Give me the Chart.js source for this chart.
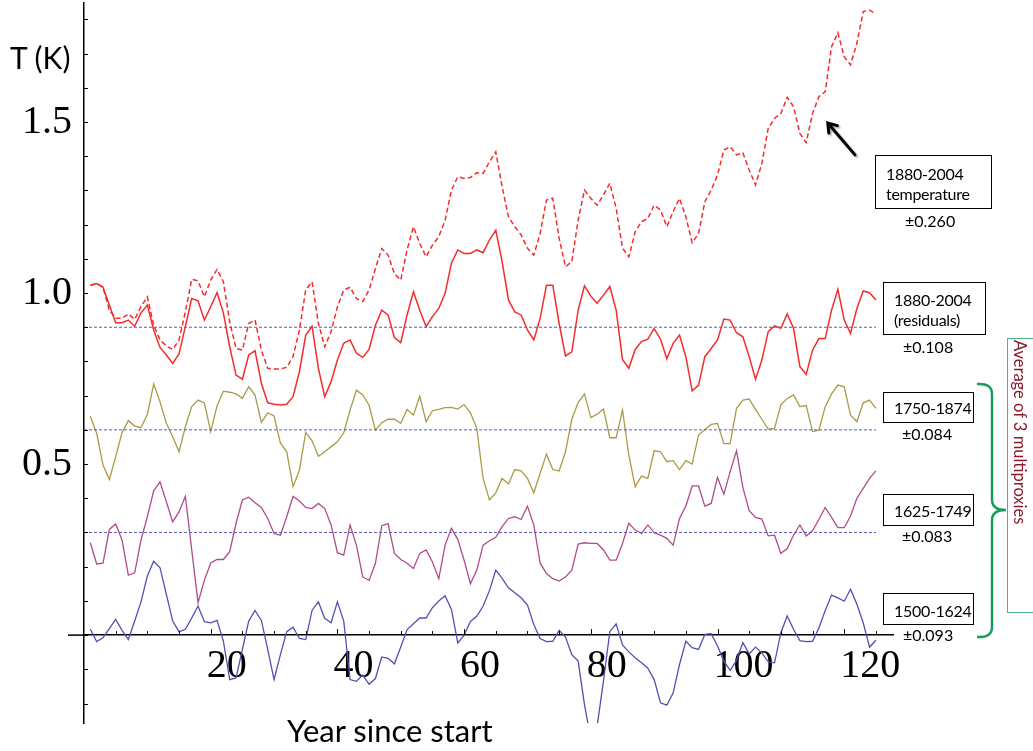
<!DOCTYPE html>
<html>
<head>
<meta charset="utf-8">
<script src="https://cdn.jsdelivr.net/npm/chart.js@4.4.1/dist/chart.umd.min.js"></script>
<style>
body{margin:0;background:#fff}
#wrap{position:relative;width:1033px;height:751px;overflow:hidden;font-family:Lato,"Open Sans",sans-serif;color:#000}
canvas{position:absolute;left:0;top:0}
.txt{position:absolute;white-space:nowrap}
.box{position:absolute;box-sizing:border-box;border:1px solid #000;font-size:16px;line-height:20px;white-space:nowrap;padding-left:10px;letter-spacing:-0.3px}
.pm{position:absolute;font-size:16px;line-height:20px;white-space:nowrap}
</style>
</head>
<body>
<div id="wrap">
<canvas id="grafica" width="1033" height="751"></canvas>

<div class="txt" style="left:10px;top:42px;font-size:30px;line-height:30px">T (K)</div>
<div class="txt" style="left:287px;top:715px;font-size:31px;line-height:31px">Year since start</div>

<div class="box" style="left:875px;top:155px;width:117px;height:54px;padding-top:8px">1880-2004<br>temperature</div>
<div class="pm" style="left:905px;top:211px">±0.260</div>

<div class="box" style="left:883px;top:282px;width:103px;height:53px;padding-top:7px">1880-2004<br>(residuals)</div>
<div class="pm" style="left:903px;top:337px">±0.108</div>

<div class="box" style="left:883px;top:392px;width:91px;height:31px;padding-top:5px">1750-1874</div>
<div class="pm" style="left:902px;top:424px">±0.084</div>

<div class="box" style="left:883px;top:494px;width:91px;height:32px;padding-top:6px">1625-1749</div>
<div class="pm" style="left:902px;top:526px">±0.083</div>

<div class="box" style="left:883px;top:593px;width:91px;height:32px;padding-top:7px">1500-1624</div>
<div class="pm" style="left:903px;top:625px">±0.093</div>

<div style="position:absolute;left:1007px;top:338px;width:40px;height:275px;box-sizing:border-box;border:1px solid #4fb585"></div>
<div class="txt" style="left:1010px;top:340px;writing-mode:vertical-rl;font-size:16.5px;line-height:20px;color:#8b1a2b">Average of 3 multiproxies</div>

<svg width="1033" height="751" style="position:absolute;left:0;top:0;pointer-events:none">
<path d="M977 384 Q992 383 992 394 L992 500 Q992 510 1006 510 Q992 510 992 520 L992 627 Q992 638 977 637" fill="none" stroke="#179c5a" stroke-width="2.5"/>
</svg>
</div>

<script>
// valores, un punto por año (1..125)
const temperature = [
1.023,1.028,1.017,0.950,0.926,0.926,0.939,0.923,0.960,0.989,
0.906,0.863,0.845,0.835,0.863,0.945,1.040,1.036,0.989,1.038,
1.069,1.033,0.916,0.838,0.833,0.911,0.921,0.833,0.780,0.778,
0.778,0.783,0.814,0.892,1.009,1.033,0.911,0.843,0.887,0.960,
1.009,1.017,0.984,0.975,1.009,1.072,1.130,1.111,1.057,1.038,
1.126,1.194,1.145,1.106,1.140,1.165,1.213,1.301,1.340,1.335,
1.338,1.352,1.350,1.384,1.413,1.311,1.223,1.194,1.170,1.131,
1.111,1.174,1.272,1.277,1.160,1.077,1.092,1.213,1.301,1.277,
1.257,1.287,1.321,1.248,1.131,1.106,1.179,1.209,1.218,1.257,
1.243,1.194,1.238,1.277,1.223,1.147,1.174,1.267,1.301,1.345,
1.418,1.428,1.404,1.410,1.360,1.316,1.379,1.481,1.511,1.525,
1.572,1.545,1.467,1.440,1.525,1.574,1.589,1.720,1.761,1.691,
1.667,1.730,1.823,1.827,1.816
]

const residuals = [
1.023,1.028,1.017,0.965,0.913,0.913,0.921,0.903,0.942,0.965,
0.892,0.841,0.819,0.794,0.822,0.902,0.984,0.977,0.921,0.960,
1.001,0.942,0.843,0.760,0.748,0.819,0.831,0.736,0.679,0.675,
0.673,0.675,0.697,0.770,0.877,0.903,0.780,0.697,0.741,0.804,
0.853,0.863,0.824,0.812,0.835,0.906,0.950,0.936,0.870,0.855,
0.936,1.004,0.950,0.902,0.931,0.955,0.999,1.087,1.126,1.116,
1.116,1.126,1.118,1.155,1.184,1.092,0.980,0.945,0.936,0.892,
0.863,0.926,1.023,1.023,0.911,0.816,0.828,0.950,1.021,0.991,
0.970,0.994,1.019,0.950,0.806,0.780,0.835,0.858,0.865,0.896,
0.865,0.808,0.853,0.877,0.814,0.714,0.730,0.814,0.838,0.863,
0.924,0.921,0.884,0.872,0.814,0.748,0.804,0.887,0.904,0.897,
0.939,0.897,0.785,0.762,0.833,0.867,0.867,0.950,1.011,0.921,
0.882,0.955,1.006,1.001,0.980
]

const proxy1750 = [
0.640,0.590,0.497,0.455,0.521,0.592,0.627,0.611,0.607,0.645,
0.734,0.682,0.619,0.580,0.536,0.609,0.668,0.687,0.679,0.595,
0.670,0.713,0.710,0.705,0.692,0.726,0.702,0.622,0.650,0.641,
0.562,0.536,0.434,0.482,0.593,0.568,0.523,0.536,0.551,0.565,
0.592,0.658,0.716,0.702,0.672,0.599,0.621,0.631,0.631,0.619,
0.660,0.643,0.699,0.624,0.656,0.660,0.665,0.666,0.661,0.674,
0.650,0.604,0.458,0.395,0.416,0.458,0.442,0.484,0.480,0.458,
0.416,0.473,0.529,0.484,0.480,0.536,0.631,0.680,0.705,0.636,
0.646,0.661,0.577,0.577,0.658,0.526,0.434,0.465,0.458,0.539,
0.536,0.507,0.510,0.484,0.510,0.500,0.585,0.601,0.616,0.619,
0.560,0.560,0.663,0.687,0.690,0.660,0.631,0.602,0.604,0.673,
0.692,0.702,0.668,0.671,0.595,0.599,0.668,0.705,0.731,0.726,
0.643,0.624,0.679,0.687,0.663
]

const proxy1625 = [
0.270,0.208,0.210,0.309,0.325,0.278,0.175,0.182,0.278,0.346,
0.422,0.448,0.390,0.331,0.360,0.406,0.250,0.095,0.160,0.211,
0.221,0.221,0.244,0.327,0.395,0.403,0.387,0.373,0.341,0.297,
0.292,0.346,0.406,0.392,0.373,0.370,0.385,0.370,0.322,0.241,
0.234,0.322,0.263,0.170,0.160,0.210,0.320,0.326,0.239,0.221,
0.210,0.195,0.239,0.249,0.214,0.165,0.263,0.312,0.280,0.219,
0.150,0.190,0.263,0.276,0.286,0.317,0.341,0.346,0.338,0.377,
0.322,0.211,0.180,0.165,0.158,0.170,0.190,0.266,0.270,0.268,
0.268,0.249,0.219,0.219,0.268,0.327,0.307,0.297,0.322,0.299,
0.292,0.283,0.263,0.341,0.377,0.436,0.436,0.377,0.385,0.461,
0.412,0.478,0.539,0.432,0.364,0.344,0.339,0.290,0.292,0.239,
0.253,0.292,0.322,0.290,0.305,0.338,0.373,0.344,0.314,0.314,
0.348,0.400,0.429,0.458,0.480
]

const proxy1500 = [
0.017,-0.019,-0.008,0.019,0.046,0.014,-0.013,0.041,0.097,0.173,
0.216,0.197,0.119,0.041,0.010,0.017,0.050,0.085,0.039,0.036,
0.043,-0.018,-0.130,-0.125,-0.042,0.041,0.072,0.043,-0.042,-0.130,
-0.057,0.010,0.023,-0.010,-0.013,0.072,0.097,0.049,0.036,0.097,
0.041,-0.130,-0.135,-0.117,-0.144,-0.127,-0.064,-0.068,-0.084,-0.035,
0.016,0.033,0.050,0.050,0.080,0.100,0.115,0.075,-0.023,0.000,
0.040,0.055,0.085,0.130,0.190,0.166,0.138,0.124,0.109,0.088,
0.031,-0.010,-0.019,-0.018,0.014,-0.006,-0.057,-0.076,-0.203,-0.305,
-0.266,-0.134,0.010,0.033,-0.029,-0.049,-0.066,-0.081,-0.097,-0.130,
-0.198,-0.205,-0.169,-0.086,-0.018,-0.037,-0.042,0.002,0.004,-0.032,
-0.076,-0.103,-0.074,-0.022,-0.055,-0.035,-0.052,-0.078,-0.081,0.007,
0.056,0.017,-0.016,-0.019,-0.018,0.021,0.072,0.117,0.109,0.099,
0.134,0.090,0.036,-0.035,-0.015
]

// niveles punteados y rango de los ejes
const refLevels = [0.9, 0.6, 0.3]
const refSpan = [0, 125]
const xTickLabels = [20, 40, 60, 80, 100, 120]
const yTickLabels = [0.5, 1.0, 1.5]
const xRange = [0, 127.7]
const yRange = [-0.257, 1.848]

// flecha que señala la curva de temperatura (coordenadas de datos)
const arrowFrom = [121.7, 1.404]
const arrowTo = [117.4, 1.497]

const puntos = vals => vals.map((v, i) => ({x: i + 1, y: v}))

const datasets = []

refLevels.forEach(l => {
datasets.push({
data: refSpan.map(x => ({x: x, y: l})),
borderColor: "#5c5cb2",
borderWidth: 1,
borderDash: [3, 2]
})
})

datasets.push({data: puntos(proxy1500), borderColor: "#5050b5", borderWidth: 1.3})
datasets.push({data: puntos(proxy1625), borderColor: "#b04b8c", borderWidth: 1.3})
datasets.push({data: puntos(proxy1750), borderColor: "#a99b48", borderWidth: 1.3})
datasets.push({data: puntos(residuals), borderColor: "#f52c2c", borderWidth: 1.5})
datasets.push({data: puntos(temperature), borderColor: "#f52c2c", borderWidth: 1.5, borderDash: [5, 3]})

const marcas = {
id: "marcas",
afterDraw(chart) {
const {ctx, scales: {x, y}} = chart
const x0 = x.getPixelForValue(0)
const y0 = y.getPixelForValue(0)
ctx.save()
ctx.strokeStyle = "#000"
ctx.lineWidth = 1.5
ctx.beginPath()
ctx.moveTo(x0 - 16, y0)
ctx.lineTo(x0, y0)
ctx.stroke()
ctx.lineWidth = 1
ctx.beginPath()
x.ticks.forEach(t => {
if (t.value <= 0) return
const px = Math.round(x.getPixelForValue(t.value)) + 0.5
const len = t.value % 20 === 0 ? 6 : 4
ctx.moveTo(px, y0)
ctx.lineTo(px, y0 - len)
})
y.ticks.forEach(t => {
const py = Math.round(y.getPixelForValue(t.value)) + 0.5
ctx.moveTo(x0, py)
ctx.lineTo(x0 + 4, py)
})
ctx.stroke()

// flecha
const x1 = x.getPixelForValue(arrowFrom[0]), y1 = y.getPixelForValue(arrowFrom[1])
const x2 = x.getPixelForValue(arrowTo[0]), y2 = y.getPixelForValue(arrowTo[1])
const ang = Math.atan2(y2 - y1, x2 - x1)
ctx.shadowColor = "rgba(0,0,0,0.35)"
ctx.shadowOffsetX = 1.5
ctx.shadowOffsetY = 1.5
ctx.shadowBlur = 2
ctx.lineWidth = 3
ctx.lineCap = "round"
ctx.beginPath()
ctx.moveTo(x1, y1)
ctx.lineTo(x2, y2)
ctx.moveTo(x2 - 10 * Math.cos(ang - 0.6), y2 - 10 * Math.sin(ang - 0.6))
ctx.lineTo(x2, y2)
ctx.lineTo(x2 - 10 * Math.cos(ang + 0.6), y2 - 10 * Math.sin(ang + 0.6))
ctx.stroke()
ctx.restore()
}
}

const sinPadding = s => {
s.paddingLeft = 0
s.paddingRight = 0
s.paddingTop = 0
s.paddingBottom = 0
}

new Chart(document.getElementById("grafica"), {
type: "line",
data: {datasets: datasets},
options: {
responsive: false,
animation: false,
events: [],
layout: {padding: {left: 0, right: 140, top: 3, bottom: 28}},
plugins: {legend: {display: false}, tooltip: {enabled: false}},
elements: {point: {radius: 0}, line: {tension: 0}},
scales: {
x: {
type: "linear",
position: {y: 0},
min: xRange[0],
max: xRange[1],
afterFit: sinPadding,
grid: {display: false, drawTicks: false},
border: {display: true, color: "#000", width: 1.5},
ticks: {
stepSize: 5,
includeBounds: false,
autoSkip: false,
maxRotation: 0,
minRotation: 0,
align: "start",
labelOffset: -4,
padding: 7,
color: "#000",
font: {family: "'Liberation Serif', 'DejaVu Serif', serif", size: 40},
callback: v => xTickLabels.includes(v) ? String(v) : ""
}
},
y: {
type: "linear",
position: "left",
min: yRange[0],
max: yRange[1],
afterFit: s => { sinPadding(s); s.width = 84 },
grid: {display: false, drawTicks: false},
border: {display: true, color: "#000", width: 1.5},
ticks: {
stepSize: 0.1,
includeBounds: false,
autoSkip: false,
padding: 12,
color: "#000",
font: {family: "'Liberation Serif', 'DejaVu Serif', serif", size: 40},
callback: v => {
const r = Math.round(v * 10) / 10
return yTickLabels.includes(r) ? r.toFixed(1) : ""
}
}
}
}
},
plugins: [marcas]
})
</script>
</body>
</html>
